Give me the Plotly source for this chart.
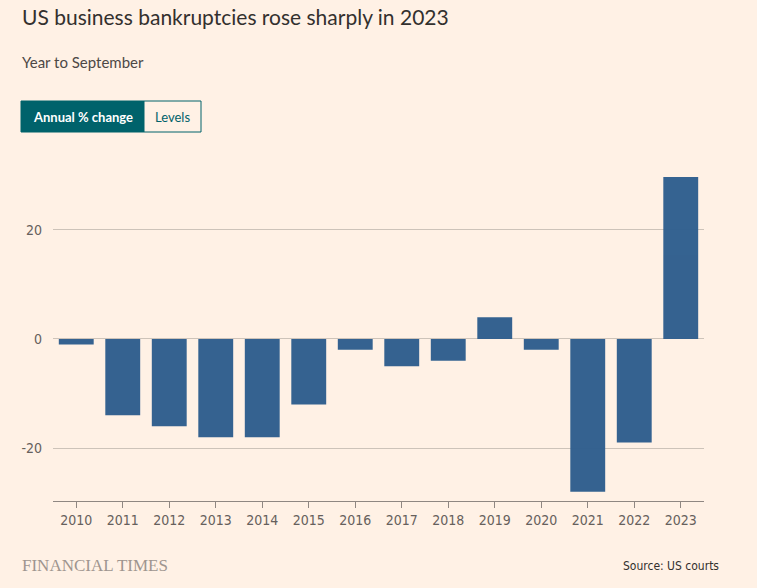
import plotly.graph_objects as go

years = ["2010", "2011", "2012", "2013", "2014", "2015", "2016",
         "2017", "2018", "2019", "2020", "2021", "2022", "2023"]
pct_change = [-1, -14, -16, -18, -18, -12, -2, -5, -4, 4, -2, -28, -19, 29.7]
y_ticks = [-20, 0, 20]

BG = "#fff1e5"
TEAL = "#00626b"
TEXT = "#33302e"
GRID = "#cdc3b9"
FONT = "Lato, 'Noto Sans', sans-serif"
NARROW = "'DejaVu Sans Condensed', 'Liberation Sans Narrow', Lato, sans-serif"

fig = go.Figure()
fig.add_trace(go.Bar(
    x=years, y=pct_change,
    marker=dict(color="#31608f", line=dict(width=0)),
    opacity=0.98,
    width=0.75,
    hoverinfo="x+y",
))

fig.update_layout(
    width=757, height=588,
    paper_bgcolor=BG, plot_bgcolor=BG,
    margin=dict(l=53, r=53, t=160, b=87),
    showlegend=False,
    font=dict(family=FONT, color=TEXT),
    xaxis=dict(
        type="category",
        range=[-0.5, 13.5],
        showgrid=False,
        showline=True, linecolor="#8f8782", linewidth=1,
        ticks="outside", ticklen=6, tickcolor="#8f8782", tickwidth=1,
        tickfont=dict(family=NARROW, size=14, color="#66605c"),
        fixedrange=True,
    ),
    yaxis=dict(
        range=[-29.7, 32.8],
        tickvals=y_ticks,
        ticktext=[str(v) for v in y_ticks],
        showgrid=True, gridcolor=GRID, gridwidth=1,
        zeroline=True, zerolinecolor=GRID, zerolinewidth=1,
        showline=False, ticks="",
        ticklabelstandoff=10,
        tickfont=dict(family=NARROW, size=14, color="#66605c"),
        fixedrange=True,
    ),
)


def px_x(p):
    return (p - 53) / 651


def px_y(p):
    return 1 - (p - 160) / 341


# Title and subtitle
fig.add_annotation(text="US business bankruptcies rose sharply in 2023",
                   xref="paper", yref="paper", x=px_x(20), y=px_y(17),
                   xanchor="left", yanchor="middle", showarrow=False,
                   font=dict(family=FONT, size=21, color=TEXT))
fig.add_annotation(text="Year to September",
                   xref="paper", yref="paper", x=px_x(20), y=px_y(62),
                   xanchor="left", yanchor="middle", showarrow=False,
                   font=dict(family=FONT, size=15, color="#4d4845"))

# Toggle buttons (static)
fig.add_shape(type="rect", xref="paper", yref="paper",
              x0=px_x(21), x1=px_x(144), y0=px_y(132), y1=px_y(101),
              fillcolor=TEAL, line=dict(color=TEAL, width=1))
fig.add_shape(type="rect", xref="paper", yref="paper",
              x0=px_x(144), x1=px_x(201), y0=px_y(132), y1=px_y(101),
              fillcolor=BG, line=dict(color=TEAL, width=1))
fig.add_annotation(text="<b>Annual % change</b>", xref="paper", yref="paper",
                   x=px_x(82.5), y=px_y(117), xanchor="center", yanchor="middle",
                   showarrow=False, font=dict(family=FONT, size=13, color="white"))
fig.add_annotation(text="Levels", xref="paper", yref="paper",
                   x=px_x(172.5), y=px_y(117), xanchor="center", yanchor="middle",
                   showarrow=False, font=dict(family=FONT, size=13, color=TEAL))

# Footer
fig.add_annotation(text="FINANCIAL TIMES", xref="paper", yref="paper",
                   x=px_x(20), y=px_y(565), xanchor="left", yanchor="middle",
                   showarrow=False,
                   font=dict(family="'Liberation Serif', 'DejaVu Serif', serif",
                             size=17, color="#9e958f"))
fig.add_annotation(text="Source: US courts", xref="paper", yref="paper",
                   x=px_x(721), y=px_y(566), xanchor="right", yanchor="middle",
                   showarrow=False,
                   font=dict(family=NARROW, size=12, color=TEXT))

fig.write_html("out.html",
               config={"displayModeBar": False},
               post_script="document.body.style.margin='0';")
